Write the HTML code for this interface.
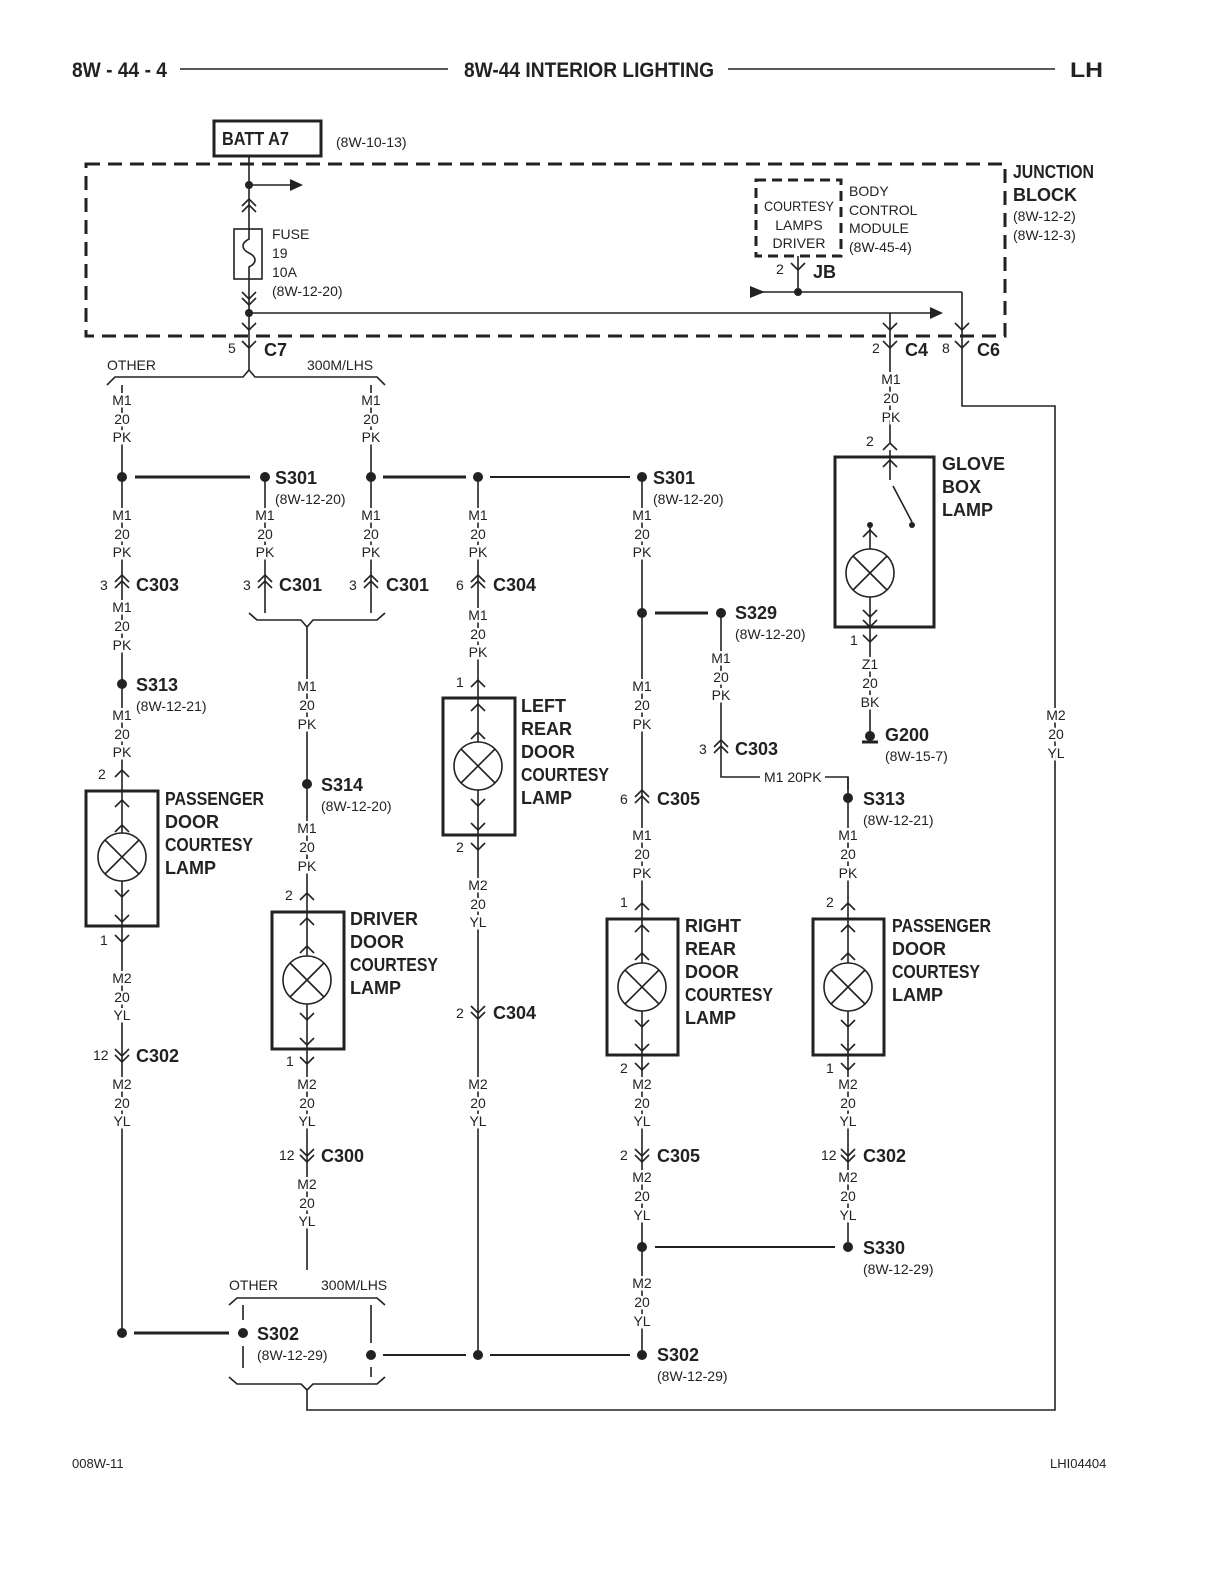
<!DOCTYPE html>
<html><head><meta charset="utf-8"><style>
html,body{margin:0;padding:0;background:#fff}
svg{display:block}
text{font-family:"Liberation Sans Narrow","Liberation Sans",sans-serif;fill:#222}
.s{font-size:14px}
.b{font-size:18px;font-weight:bold}
.h{font-size:21px;font-weight:bold}
.w{text-anchor:middle;stroke:#fff;stroke-width:5px;paint-order:stroke}
</style></head><body>
<svg width="1224" height="1584" viewBox="0 0 1224 1584" xmlns="http://www.w3.org/2000/svg">
<defs>
<path id="upc" d="M-7,7 L0,0 L7,7 M-7,13 L0,6 L7,13" fill="none" stroke="#222" stroke-width="1.6"/>
<path id="dnc" d="M-7,-7 L0,0 L7,-7 M-7,-13 L0,-6 L7,-13" fill="none" stroke="#222" stroke-width="1.6"/>
<path id="Y" d="M-7,-7 L0,0 L7,-7" fill="none" stroke="#222" stroke-width="1.6"/>
<path id="A" d="M-7,7 L0,0 L7,7" fill="none" stroke="#222" stroke-width="1.6"/>
<g id="lamp">
<circle cx="0" cy="0" r="24" fill="#fff" stroke="#222" stroke-width="1.6"/>
<path d="M-17,-17 L17,17 M17,-17 L-17,17" stroke="#222" stroke-width="1.6"/>
</g>
</defs>
<g stroke="#222" fill="none">
<line x1="180" y1="69" x2="448" y2="69" stroke-width="1.6"/>
<line x1="728" y1="69" x2="1055" y2="69" stroke-width="1.6"/>
<rect x="214" y="121" width="107" height="35" stroke-width="3"/>
<rect x="86" y="164" width="919" height="172" stroke-width="3" stroke-dasharray="14 8"/>
<rect x="756" y="180" width="85" height="76" stroke-width="3" stroke-dasharray="10 6"/>
<line x1="249" y1="156" x2="249" y2="370" stroke-width="1.6"/>
<line x1="249" y1="185" x2="290" y2="185" stroke-width="1.6"/>
<rect x="234" y="229" width="28" height="50" fill="#fff" stroke-width="1.6"/>
<path d="M249,229 v10 c-8,4 -8,10 0,14 c8,4 8,10 0,14 v12" stroke-width="1.6"/>
<line x1="249" y1="313" x2="930" y2="313" stroke-width="1.6"/>
<line x1="798" y1="256" x2="798" y2="292" stroke-width="1.6"/>
<line x1="750" y1="292" x2="962" y2="292" stroke-width="1.6"/>
<path d="M962,292 V406 H1055 V1410 H307 V1390" stroke-width="1.6"/>
<line x1="890" y1="313" x2="890" y2="443" stroke-width="1.6"/>
<path d="M107,385 L115,377 L243,377 L249,370 L255,377 L377,377 L385,385" stroke-width="1.6"/>
<line x1="122" y1="385" x2="122" y2="1333" stroke-width="1.6"/>
<line x1="371" y1="385" x2="371" y2="613" stroke-width="1.6"/>
<line x1="265" y1="477" x2="265" y2="613" stroke-width="1.6"/>
<line x1="478" y1="477" x2="478" y2="1355" stroke-width="1.6"/>
<line x1="642" y1="477" x2="642" y2="1355" stroke-width="1.6"/>
<line x1="307" y1="627" x2="307" y2="1270" stroke-width="1.6"/>
<line x1="848" y1="777" x2="848" y2="1247" stroke-width="1.6"/>
<path d="M721,613 V777 H760 M825,777 H848 V790" stroke-width="1.6"/>
<path d="M249,613 L257,620 L301,620 L307,627 L313,620 L377,620 L385,613" stroke-width="1.6"/>
<line x1="135" y1="477" x2="250" y2="477" stroke-width="3"/>
<line x1="383" y1="477" x2="466" y2="477" stroke-width="3"/>
<line x1="490" y1="477" x2="630" y2="477" stroke-width="2"/>
<line x1="655" y1="613" x2="708" y2="613" stroke-width="3"/>
<line x1="655" y1="1247" x2="835" y2="1247" stroke-width="2"/>
<line x1="134" y1="1333" x2="229" y2="1333" stroke-width="3"/>
<line x1="383" y1="1355" x2="466" y2="1355" stroke-width="2"/>
<line x1="490" y1="1355" x2="630" y2="1355" stroke-width="2"/>
<path d="M229,1305 L237,1298 L377,1298 L385,1305" stroke-width="1.6"/>
<path d="M229,1377 L237,1384 L301,1384 L307,1390 L313,1384 L377,1384 L385,1377" stroke-width="1.6"/>
<path d="M243,1305 V1320 M243,1346 V1368 M371,1305 V1343 M371,1367 V1377" stroke-width="1.6"/>
<rect x="86" y="791" width="72" height="135" stroke-width="3"/>
<rect x="272" y="912" width="72" height="137" stroke-width="3"/>
<rect x="443" y="698" width="72" height="137" stroke-width="3"/>
<rect x="607" y="919" width="71" height="136" stroke-width="3"/>
<rect x="813" y="919" width="71" height="136" stroke-width="3"/>
<rect x="835" y="457" width="99" height="170" stroke-width="3"/>
<path d="M890,450 V480 M893,486 L912,522 M870,527 V740" stroke-width="1.6"/>
<line x1="862" y1="742" x2="878" y2="742" stroke-width="3"/>
</g>
<g fill="#222">
<polygon points="290,179 303,185 290,191"/>
<polygon points="930,307 943,313 930,319"/>
<polygon points="750,286 765,292 750,298"/>
<circle cx="249" cy="185" r="4"/><circle cx="249" cy="313" r="4"/><circle cx="798" cy="292" r="4"/>
<circle cx="122" cy="477" r="5"/><circle cx="265" cy="477" r="5"/><circle cx="371" cy="477" r="5"/>
<circle cx="478" cy="477" r="5"/><circle cx="642" cy="477" r="5"/><circle cx="122" cy="684" r="5"/>
<circle cx="307" cy="784" r="5"/><circle cx="642" cy="613" r="5"/><circle cx="721" cy="613" r="5"/>
<circle cx="848" cy="798" r="5"/><circle cx="642" cy="1247" r="5"/><circle cx="848" cy="1247" r="5"/>
<circle cx="122" cy="1333" r="5"/><circle cx="243" cy="1333" r="5"/><circle cx="371" cy="1355" r="5"/>
<circle cx="478" cy="1355" r="5"/><circle cx="642" cy="1355" r="5"/>
<circle cx="912" cy="525" r="3"/><circle cx="870" cy="525" r="3"/><circle cx="870" cy="736" r="5"/>
</g>
<use href="#upc" x="249" y="199"/><use href="#dnc" x="249" y="305"/><use href="#Y" x="249" y="330"/><use href="#Y" x="249" y="348"/>
<use href="#Y" x="798" y="270"/>
<use href="#Y" x="890" y="330"/><use href="#Y" x="890" y="348"/>
<use href="#Y" x="962" y="330"/><use href="#Y" x="962" y="348"/>
<use href="#A" x="890" y="443"/><use href="#A" x="890" y="460"/>
<use href="#A" x="870" y="530"/><use href="#Y" x="870" y="617"/><use href="#Y" x="870" y="627"/><use href="#Y" x="870" y="642"/>
<use href="#lamp" x="870" y="573"/>
<use href="#upc" x="122" y="575"/><use href="#upc" x="265" y="575"/><use href="#upc" x="371" y="575"/><use href="#upc" x="478" y="575"/>
<use href="#upc" x="721" y="740"/><use href="#upc" x="642" y="790"/>
<use href="#A" x="122" y="770"/><use href="#A" x="122" y="800"/><use href="#A" x="122" y="825"/><use href="#lamp" x="122" y="857"/><use href="#Y" x="122" y="897"/><use href="#Y" x="122" y="922"/><use href="#Y" x="122" y="942"/>
<use href="#A" x="307" y="893"/><use href="#A" x="307" y="918"/><use href="#A" x="307" y="946"/><use href="#lamp" x="307" y="980"/><use href="#Y" x="307" y="1020"/><use href="#Y" x="307" y="1045"/><use href="#Y" x="307" y="1064"/>
<use href="#A" x="478" y="680"/><use href="#A" x="478" y="704"/><use href="#A" x="478" y="732"/><use href="#lamp" x="478" y="766"/><use href="#Y" x="478" y="806"/><use href="#Y" x="478" y="830"/><use href="#Y" x="478" y="850"/>
<use href="#A" x="642" y="903"/><use href="#A" x="642" y="925"/><use href="#A" x="642" y="953"/><use href="#lamp" x="642" y="987"/><use href="#Y" x="642" y="1027"/><use href="#Y" x="642" y="1051"/><use href="#Y" x="642" y="1070"/>
<use href="#A" x="848" y="903"/><use href="#A" x="848" y="925"/><use href="#A" x="848" y="953"/><use href="#lamp" x="848" y="987"/><use href="#Y" x="848" y="1027"/><use href="#Y" x="848" y="1051"/><use href="#Y" x="848" y="1070"/>
<use href="#dnc" x="122" y="1062"/><use href="#dnc" x="307" y="1162"/><use href="#dnc" x="478" y="1019"/><use href="#dnc" x="642" y="1162"/><use href="#dnc" x="848" y="1162"/>

<text class="h" x="72" y="77" textLength="95" lengthAdjust="spacingAndGlyphs">8W - 44 - 4</text>
<text class="h" x="464" y="77" textLength="250" lengthAdjust="spacingAndGlyphs">8W-44 INTERIOR LIGHTING</text>
<text class="h" x="1070" y="77" textLength="33" lengthAdjust="spacingAndGlyphs">LH</text>
<text class="b" x="222" y="145" textLength="67" lengthAdjust="spacingAndGlyphs">BATT A7</text>
<text class="s" x="336" y="147">(8W-10-13)</text>
<text class="b" x="1013" y="178" textLength="81" lengthAdjust="spacingAndGlyphs">JUNCTION</text><text class="b" x="1013" y="201">BLOCK</text>
<text class="s" x="1013" y="221">(8W-12-2)</text><text class="s" x="1013" y="240">(8W-12-3)</text>
<text class="s" x="272" y="239">FUSE</text><text class="s" x="272" y="258">19</text><text class="s" x="272" y="277">10A</text><text class="s" x="272" y="296">(8W-12-20)</text>
<text class="s" x="799" y="211" text-anchor="middle" textLength="70" lengthAdjust="spacingAndGlyphs">COURTESY</text><text class="s" x="799" y="230" text-anchor="middle">LAMPS</text><text class="s" x="799" y="248" text-anchor="middle">DRIVER</text>
<text class="s" x="849" y="196">BODY</text><text class="s" x="849" y="215">CONTROL</text><text class="s" x="849" y="233">MODULE</text><text class="s" x="849" y="252">(8W-45-4)</text>
<text class="s" x="776" y="274">2</text><text class="b" x="813" y="278">JB</text>
<text class="s" x="228" y="353">5</text><text class="b" x="264" y="356">C7</text>
<text class="s" x="872" y="353">2</text><text class="b" x="905" y="356">C4</text>
<text class="s" x="942" y="353">8</text><text class="b" x="977" y="356">C6</text>
<text class="s" x="107" y="370">OTHER</text><text class="s" x="307" y="370">300M/LHS</text>

<g class="s w">
<text x="122" y="405">M1</text><text x="122" y="424">20</text><text x="122" y="442">PK</text>
<text x="371" y="405">M1</text><text x="371" y="424">20</text><text x="371" y="442">PK</text>
<text x="891" y="384">M1</text><text x="891" y="403">20</text><text x="891" y="422">PK</text>
<text x="122" y="520">M1</text><text x="122" y="539">20</text><text x="122" y="557">PK</text>
<text x="265" y="520">M1</text><text x="265" y="539">20</text><text x="265" y="557">PK</text>
<text x="371" y="520">M1</text><text x="371" y="539">20</text><text x="371" y="557">PK</text>
<text x="478" y="520">M1</text><text x="478" y="539">20</text><text x="478" y="557">PK</text>
<text x="642" y="520">M1</text><text x="642" y="539">20</text><text x="642" y="557">PK</text>
<text x="122" y="612">M1</text><text x="122" y="631">20</text><text x="122" y="650">PK</text>
<text x="122" y="720">M1</text><text x="122" y="739">20</text><text x="122" y="757">PK</text>
<text x="307" y="691">M1</text><text x="307" y="710">20</text><text x="307" y="729">PK</text>
<text x="307" y="833">M1</text><text x="307" y="852">20</text><text x="307" y="871">PK</text>
<text x="478" y="620">M1</text><text x="478" y="639">20</text><text x="478" y="657">PK</text>
<text x="642" y="691">M1</text><text x="642" y="710">20</text><text x="642" y="729">PK</text>
<text x="721" y="663">M1</text><text x="721" y="682">20</text><text x="721" y="700">PK</text>
<text x="642" y="840">M1</text><text x="642" y="859">20</text><text x="642" y="878">PK</text>
<text x="848" y="840">M1</text><text x="848" y="859">20</text><text x="848" y="878">PK</text>
<text x="870" y="669">Z1</text><text x="870" y="688">20</text><text x="870" y="707">BK</text>
<text x="1056" y="720">M2</text><text x="1056" y="739">20</text><text x="1056" y="758">YL</text>
<text x="122" y="983">M2</text><text x="122" y="1002">20</text><text x="122" y="1020">YL</text>
<text x="478" y="890">M2</text><text x="478" y="909">20</text><text x="478" y="927">YL</text>
<text x="122" y="1089">M2</text><text x="122" y="1108">20</text><text x="122" y="1126">YL</text>
<text x="307" y="1089">M2</text><text x="307" y="1108">20</text><text x="307" y="1126">YL</text>
<text x="478" y="1089">M2</text><text x="478" y="1108">20</text><text x="478" y="1126">YL</text>
<text x="642" y="1089">M2</text><text x="642" y="1108">20</text><text x="642" y="1126">YL</text>
<text x="848" y="1089">M2</text><text x="848" y="1108">20</text><text x="848" y="1126">YL</text>
<text x="307" y="1189">M2</text><text x="307" y="1208">20</text><text x="307" y="1226">YL</text>
<text x="642" y="1182">M2</text><text x="642" y="1201">20</text><text x="642" y="1220">YL</text>
<text x="848" y="1182">M2</text><text x="848" y="1201">20</text><text x="848" y="1220">YL</text>
<text x="642" y="1288">M2</text><text x="642" y="1307">20</text><text x="642" y="1326">YL</text>
</g>
<text class="s" x="764" y="782">M1  20PK</text>

<text class="b" x="275" y="484">S301</text><text class="s" x="275" y="504">(8W-12-20)</text>
<text class="b" x="653" y="484">S301</text><text class="s" x="653" y="504">(8W-12-20)</text>
<text class="s" x="100" y="590">3</text><text class="b" x="136" y="591">C303</text>
<text class="s" x="243" y="590">3</text><text class="b" x="279" y="591">C301</text>
<text class="s" x="349" y="590">3</text><text class="b" x="386" y="591">C301</text>
<text class="s" x="456" y="590">6</text><text class="b" x="493" y="591">C304</text>
<text class="b" x="735" y="619">S329</text><text class="s" x="735" y="639">(8W-12-20)</text>
<text class="b" x="136" y="691">S313</text><text class="s" x="136" y="711">(8W-12-21)</text>
<text class="s" x="456" y="687">1</text>
<text class="b" x="521" y="712">LEFT</text><text class="b" x="521" y="735">REAR</text><text class="b" x="521" y="758">DOOR</text><text class="b" x="521" y="781" textLength="88" lengthAdjust="spacingAndGlyphs">COURTESY</text><text class="b" x="521" y="804">LAMP</text>
<text class="s" x="699" y="754">3</text><text class="b" x="735" y="755">C303</text>
<text class="b" x="942" y="470">GLOVE</text><text class="b" x="942" y="493">BOX</text><text class="b" x="942" y="516">LAMP</text>
<text class="s" x="866" y="446">2</text>
<text class="s" x="850" y="645">1</text>
<text class="b" x="885" y="741">G200</text><text class="s" x="885" y="761">(8W-15-7)</text>
<text class="s" x="98" y="779">2</text>
<text class="b" x="165" y="805" textLength="99" lengthAdjust="spacingAndGlyphs">PASSENGER</text><text class="b" x="165" y="828">DOOR</text><text class="b" x="165" y="851" textLength="88" lengthAdjust="spacingAndGlyphs">COURTESY</text><text class="b" x="165" y="874">LAMP</text>
<text class="s" x="100" y="945">1</text>
<text class="b" x="321" y="791">S314</text><text class="s" x="321" y="811">(8W-12-20)</text>
<text class="s" x="620" y="804">6</text><text class="b" x="657" y="805">C305</text>
<text class="b" x="863" y="805">S313</text><text class="s" x="863" y="825">(8W-12-21)</text>
<text class="s" x="456" y="852">2</text>
<text class="s" x="285" y="900">2</text>
<text class="b" x="350" y="925">DRIVER</text><text class="b" x="350" y="948">DOOR</text><text class="b" x="350" y="971" textLength="88" lengthAdjust="spacingAndGlyphs">COURTESY</text><text class="b" x="350" y="994">LAMP</text>
<text class="s" x="620" y="907">1</text><text class="s" x="826" y="907">2</text>
<text class="b" x="685" y="932">RIGHT</text><text class="b" x="685" y="955">REAR</text><text class="b" x="685" y="978">DOOR</text><text class="b" x="685" y="1001" textLength="88" lengthAdjust="spacingAndGlyphs">COURTESY</text><text class="b" x="685" y="1024">LAMP</text>
<text class="b" x="892" y="932" textLength="99" lengthAdjust="spacingAndGlyphs">PASSENGER</text><text class="b" x="892" y="955">DOOR</text><text class="b" x="892" y="978" textLength="88" lengthAdjust="spacingAndGlyphs">COURTESY</text><text class="b" x="892" y="1001">LAMP</text>
<text class="s" x="456" y="1018">2</text><text class="b" x="493" y="1019">C304</text>
<text class="s" x="93" y="1060">12</text><text class="b" x="136" y="1062">C302</text>
<text class="s" x="286" y="1066">1</text><text class="s" x="620" y="1073">2</text><text class="s" x="826" y="1073">1</text>
<text class="s" x="279" y="1160">12</text><text class="b" x="321" y="1162">C300</text>
<text class="s" x="620" y="1160">2</text><text class="b" x="657" y="1162">C305</text>
<text class="s" x="821" y="1160">12</text><text class="b" x="863" y="1162">C302</text>
<text class="b" x="863" y="1254">S330</text><text class="s" x="863" y="1274">(8W-12-29)</text>
<text class="s" x="229" y="1290">OTHER</text><text class="s" x="321" y="1290">300M/LHS</text>
<text class="b" x="257" y="1340">S302</text><text class="s" x="257" y="1360">(8W-12-29)</text>
<text class="b" x="657" y="1361">S302</text><text class="s" x="657" y="1381">(8W-12-29)</text>
<text class="s" x="72" y="1468" style="font-size:13px">008W-11</text>
<text class="s" x="1050" y="1468" style="font-size:13px">LHI04404</text>
</svg>
</body></html>
